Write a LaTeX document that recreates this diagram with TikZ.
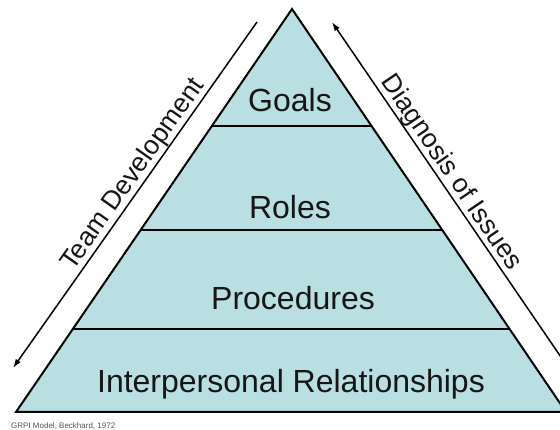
\documentclass[tikz,border=0pt]{standalone}
\usepackage{fontspec}
\setmainfont{Liberation Sans}
\usetikzlibrary{arrows.meta,calc}
\definecolor{pyrfill}{RGB}{185,223,227}
\definecolor{txtcol}{RGB}{22,22,22}
\definecolor{capgray}{RGB}{85,85,85}
\begin{document}
\begin{tikzpicture}[x=1pt,y=-1pt,
  pyr/.style={fill=pyrfill,draw=black,line width=2pt,line join=miter},
  divider/.style={draw=black,line width=2pt},
  layertext/.style={anchor=base,inner sep=0pt,text=txtcol,font=\fontsize{32}{36}\selectfont},
  sidetext/.style={anchor=south,inner sep=0.5pt,text=txtcol,font=\fontsize{26.5}{30}\selectfont},
  arrowline/.style={draw=black,line width=1.5pt,-{Latex[length=9pt,width=6pt]}},
  captext/.style={anchor=base west,inner sep=0pt,text=capgray,font=\fontsize{8}{9}\selectfont}]
\useasboundingbox (0,0) rectangle (560,430);
\clip (0,0) rectangle (560,430);
% pyramid
\coordinate (apex) at (292,9);
\coordinate (bl) at (16,412);
\coordinate (br) at (566,412);
\path[pyr] (apex) -- (br) -- (bl) -- cycle;
\coordinate (d1l) at ($(apex)!0.2903!(bl)$);
\coordinate (d1r) at ($(apex)!0.2903!(br)$);
\coordinate (d2l) at ($(apex)!0.5484!(bl)$);
\coordinate (d2r) at ($(apex)!0.5484!(br)$);
\coordinate (d3l) at ($(apex)!0.7940!(bl)$);
\coordinate (d3r) at ($(apex)!0.7940!(br)$);
\draw[divider] (d1l) -- (d1r);
\draw[divider] (d2l) -- (d2r);
\draw[divider] (d3l) -- (d3r);
% layer labels
\node[layertext] (goals) at (290,112) {Goals};
\node[layertext] (roles) at (290,219) {Roles};
\node[layertext] (proc) at (293,310) {Procedures};
\node[layertext] (inter) at (291,392) {Interpersonal Relationships};
% side arrows
\coordinate (ltop) at (257,22);
\coordinate (lbot) at (13,368);
\draw[arrowline] (ltop) -- (lbot);
\coordinate (rtop) at (332,22);
\coordinate (rbot) at (619,442);
\draw[arrowline] (rbot) -- (rtop);
\node[sidetext,rotate=54.8] (team) at ($(ltop)!196pt!(lbot)$) {Team Development};
\node[sidetext,rotate=-55.7] (diag) at ($(rtop)!191.5pt!(rbot)$) {Diagnosis of Issues};
% caption
\node[captext] (cap) at (11,428.5) {GRPI Model, Beckhard, 1972};
\end{tikzpicture}
\end{document}
